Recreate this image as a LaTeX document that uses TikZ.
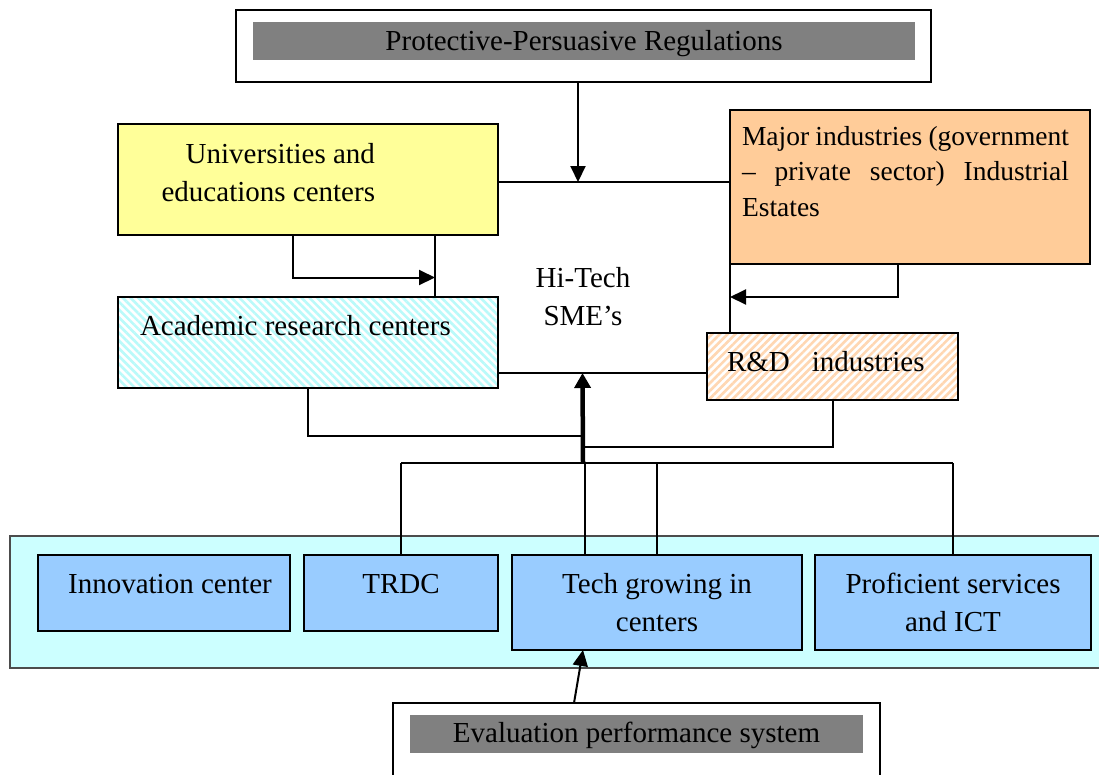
\documentclass[tikz,border=0pt]{standalone}
\usepackage{fontspec}
\setmainfont{Liberation Serif}
\usetikzlibrary{arrows.meta,patterns.meta,calc}
\definecolor{regGray}{RGB}{128,128,128}
\definecolor{uniYellow}{RGB}{255,255,153}
\definecolor{majOrange}{RGB}{255,204,153}
\definecolor{cellBlue}{RGB}{153,204,255}
\definecolor{bandCyan}{RGB}{204,255,255}
\definecolor{acadStripe}{RGB}{185,250,250}
\definecolor{rndStripe}{RGB}{255,215,178}

\begin{document}
\begin{tikzpicture}[x=1pt,y=-1pt,
  every node/.style={font=\fontsize{29}{38}\selectfont, inner sep=0pt, outer sep=0pt},
  frame/.style={draw=black, line width=2pt, rectangle},
  shade box/.style={rectangle, fill=regGray},
  cell/.style={frame, fill=cellBlue},
  hatched/.style={frame, preaction={fill=white}, pattern={Lines[angle=#1,distance=5.5pt,line width=2.6pt]}},
  wire/.style={line width=2pt},
  arr/.style={wire, -{Triangle[length=16pt,width=15pt]}},
  mainarr/.style={line width=4.5pt, -{Triangle[length=15pt,width=16pt]}},
]
\useasboundingbox (0,0) rectangle (1099,774);

% regulations banner
\node[frame, fill=white, minimum width=695pt, minimum height=72pt] (reg) at (583.5,46) {};
\node[shade box, minimum width=662pt, minimum height=38pt] (regbar) at (584,41) {};
\node[anchor=base] (regtxt) at (584,50) {Protective-Persuasive Regulations};

% central Hi-Tech SME box (partly covered by the surrounding boxes)
\node[frame, fill=white, minimum width=295pt, minimum height=191pt] (hitech) at (582.5,277.5) {};
\node[anchor=base, align=center] (hitechtxt) at (583,325) {Hi-Tech\\SME’s};

% universities
\node[frame, fill=uniYellow, minimum width=380pt, minimum height=111pt] (univ) at (308,179.5) {};
\node[anchor=base east, align=right] (univtxt) at (375,201) {Universities and\\educations centers};

% academic research centres (hatched)
\node[hatched=-45, pattern color=acadStripe, minimum width=380pt, minimum height=91pt] (acad) at (308,342.5) {};
\node[anchor=base west] (acadtxt) at (140,335) {Academic research centers};

% major industries
\node[frame, fill=majOrange, minimum width=360pt, minimum height=154pt] (major) at (910,187) {};
\node[anchor=base west, text width=327pt, align=left, font=\fontsize{27.5}{35.5}\selectfont] (majortxt) at (742,145)
  {Major\hfill industries\hfill (government\\–\hfill private\hfill sector)\hfill Industrial\\Estates};

% R&D industries (hatched)
\node[hatched=45, pattern color=rndStripe, minimum width=251pt, minimum height=67pt] (rnd) at (832.5,366.5) {};
\node[anchor=base west] (rndtxt) at (727,371) {R\&D\hspace*{22pt}industries};

% band of support centres
\node[draw=black!70, line width=1.4pt, fill=bandCyan, minimum width=1100pt, minimum height=132pt] (band) at (560,602) {};
\node[cell, minimum width=252pt, minimum height=76pt] (innov) at (164,593) {};
\node[anchor=base] (innovtxt) at (170,593) {Innovation center};
\node[cell, minimum width=194pt, minimum height=76pt] (trdc) at (401,593) {};
\node[anchor=base] (trdctxt) at (401,593) {TRDC};
\node[cell, minimum width=290pt, minimum height=95pt] (tech) at (657,602.5) {};
\node[anchor=base, align=center] (techtxt) at (657,631) {Tech growing in\\centers};
\node[cell, minimum width=276pt, minimum height=95pt] (prof) at (953,602.5) {};
\node[anchor=base, align=center] (proftxt) at (953,631) {Proficient services\\and ICT};

% evaluation banner
\node[frame, fill=white, minimum width=487pt, minimum height=100pt] (eval) at (636.5,753) {};
\node[shade box, minimum width=453pt, minimum height=38pt] (evalbar) at (636.5,734) {};
\node[anchor=base] (evaltxt) at (636.5,742) {Evaluation performance system};

% junction points of the lower wiring
\coordinate (hub) at (583,463);
\coordinate (busL) at (401,463);
\coordinate (busR) at (953,463);
\coordinate (techtap) at ([xshift=-72pt]tech.north);

% connectors
\draw[arr] ([xshift=-5.5pt]reg.south) -- ([xshift=-5.5pt]reg.south |- hitech.north);
\draw[arr] ([xshift=-15pt]univ.south) |- (hitech.west);
\draw[arr] ([xshift=-12pt]major.south) |- ([yshift=-19.5pt]hitech.east);
\draw[wire] (acad.south) |- (hub |- 0,436);
\draw[wire] (rnd.south) |- (hub |- 0,447);
\draw[wire] (busL) -- (busR);
\draw[wire] (busL) -- (trdc.north);
\draw[wire] (techtap) -- (techtap |- hub);
\draw[wire] (tech.north) -- (tech.north |- hub);
\draw[wire] (prof.north) -- (busR);
\draw[mainarr] (hub) -- (hitech.south);
\draw[arr] ([xshift=-62.5pt]eval.north) -- ([xshift=-74pt]tech.south);
\end{tikzpicture}
\end{document}
